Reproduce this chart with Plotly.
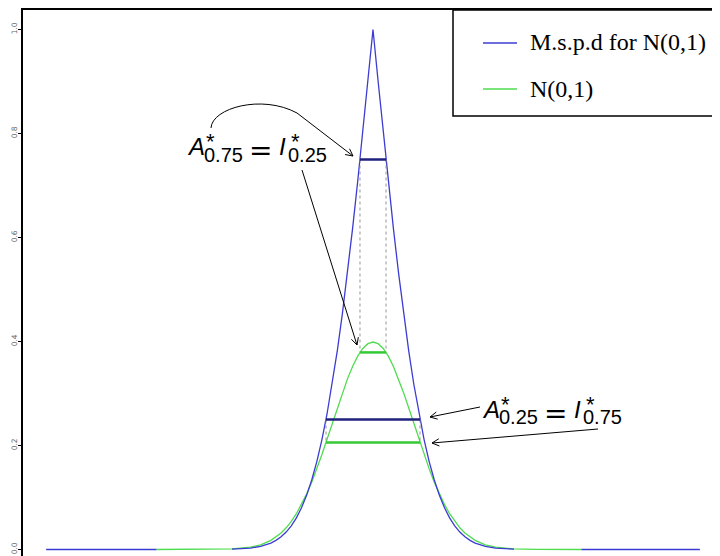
import math
import plotly.graph_objects as go

# ---------------- data ----------------
# M.s.p.d for N(0,1): left tail, core, right tail (None = gap in the drawn line)
blue_x = [-8.0, -5.3, None,
          -3.45, -3.0, -2.75, -2.5, -2.375, -2.25, -2.125, -2.0, -1.875, -1.75,
          -1.625, -1.5, -1.375, -1.25, -1.125, -1.0, -0.875, -0.75, -0.625, -0.5,
          -0.375, -0.25, -0.125, 0.0, 0.125, 0.25, 0.375, 0.5, 0.625, 0.75, 0.875,
          1.0, 1.125, 1.25, 1.375, 1.5, 1.625, 1.75, 1.875, 2.0, 2.125, 2.25,
          2.375, 2.5, 2.75, 3.0, 3.45,
          None, 5.1, 8.0]
blue_y = [0.0, 0.0, None,
          0.00056, 0.0027, 0.00596, 0.01242, 0.01754, 0.02445, 0.03358, 0.0455,
          0.06079, 0.08012, 0.10416, 0.13361, 0.16913, 0.2113, 0.26058, 0.31731,
          0.38157, 0.45326, 0.53197, 0.61708, 0.70766, 0.80258, 0.90052, 1.0,
          0.90052, 0.80258, 0.70766, 0.61708, 0.53197, 0.45326, 0.38157, 0.31731,
          0.26058, 0.2113, 0.16913, 0.13361, 0.10416, 0.08012, 0.06079, 0.0455,
          0.03358, 0.02445, 0.01754, 0.01242, 0.00596, 0.0027, 0.00056,
          None, 0.0, 0.0]

# N(0,1) density
green_x = [-5.3, -4.0, -3.45, -3.0, -2.75, -2.5, -2.375, -2.25, -2.125, -2.0,
           -1.875, -1.75, -1.625, -1.5, -1.375, -1.25, -1.125, -1.0, -0.875,
           -0.75, -0.625, -0.5, -0.375, -0.25, -0.125, 0.0, 0.125, 0.25, 0.375,
           0.5, 0.625, 0.75, 0.875, 1.0, 1.125, 1.25, 1.375, 1.5, 1.625, 1.75,
           1.875, 2.0, 2.125, 2.25, 2.375, 2.5, 2.75, 3.0, 3.45, 4.0, 5.1]
green_y = [0.0, 0.00013, 0.00104, 0.00443, 0.00909, 0.01753, 0.02378, 0.03174,
           0.04172, 0.05399, 0.06879, 0.08628, 0.10654, 0.12952, 0.15502,
           0.18265, 0.21188, 0.24197, 0.27205, 0.30114, 0.32816, 0.35207,
           0.37185, 0.38667, 0.39584, 0.39894, 0.39584, 0.38667, 0.37185,
           0.35207, 0.32816, 0.30114, 0.27205, 0.24197, 0.21188, 0.18265,
           0.15502, 0.12952, 0.10654, 0.08628, 0.06879, 0.05399, 0.04172,
           0.03174, 0.02378, 0.01753, 0.00909, 0.00443, 0.00104, 0.00013, 0.0]

prob_levels = [0.75, 0.25]          # heights of the dark-blue segments
quantile_x = [0.3186, 1.1503]       # half-widths of the segments
normal_heights = [0.3790, 0.2059]   # heights of the green segments

y_ticks = [0.0, 0.2, 0.4, 0.6, 0.8, 1.0]
y_tick_labels = ["0.0", "0.2", "0.4", "0.6", "0.8", "1.0"]

legend_labels = ["M.s.p.d for N(0,1)", "N(0,1)"]

# ---------------- styling / layout helpers ----------------
BLUE = "#3c3cd2"
GREEN = "#4fdc4f"
NAVY = "#20207e"
GREEN_SEG = "#35c935"

# the page has an 8px body margin: figure is 712x548 placed at (8, 8)
PAGE_OFF = 8
FIG_W, FIG_H = 720 - PAGE_OFF, 556 - PAGE_OFF
PLOT_LEFT_PX, PLOT_TOP_PX = 23, 10      # page pixels of plot-area edges

X0PX, XS = 373.0, 40.86      # page pixel of x=0, pixels per unit
Y0PX, YS = 549.5, 520.0      # page pixel of y=0, pixels per unit


def dx(px):
    return (px - X0PX) / XS


def dy(py):
    return (Y0PX - py) / YS


fig = go.Figure()

fig.add_trace(go.Scatter(x=green_x, y=green_y, mode="lines",
                         line=dict(color=GREEN, width=1.3), showlegend=False,
                         name=legend_labels[1], hoverinfo="skip"))
fig.add_trace(go.Scatter(x=blue_x, y=blue_y, mode="lines",
                         line=dict(color=BLUE, width=1.3), showlegend=False,
                         name=legend_labels[0], hoverinfo="skip",
                         connectgaps=False))

# dotted verticals
for q, p, h in zip(quantile_x, prob_levels, normal_heights):
    for s in (-1, 1):
        fig.add_trace(go.Scatter(x=[s * q, s * q], y=[p, h], mode="lines",
                                 line=dict(color="#888888", width=0.9, dash="dot"),
                                 showlegend=False, hoverinfo="skip"))

# horizontal segments
for q, p, h in zip(quantile_x, prob_levels, normal_heights):
    fig.add_trace(go.Scatter(x=[-q, q], y=[p, p], mode="lines",
                             line=dict(color=NAVY, width=2.5),
                             showlegend=False, hoverinfo="skip"))
    fig.add_trace(go.Scatter(x=[-q, q], y=[h, h], mode="lines",
                             line=dict(color=GREEN_SEG, width=2.5),
                             showlegend=False, hoverinfo="skip"))


def P(px, py):
    return f"{dx(px):.5f},{dy(py):.5f}"


def head(x0, y0, x1, y1, L=8.0, ang=math.radians(27)):
    ux, uy = x0 - x1, y0 - y1
    n = math.hypot(ux, uy)
    ux, uy = ux / n, uy / n
    pts = []
    for a in (ang, -ang):
        c, s = math.cos(a), math.sin(a)
        pts.append((x1 + L * (ux * c - uy * s), y1 + L * (ux * s + uy * c)))
    return f" M {P(*pts[0])} L {P(x1, y1)} L {P(*pts[1])}"


shapes = []
arrow_line = dict(color="black", width=1)

# curved arrow to the top blue segment
path = (f"M {P(211, 128)} C {P(212, 108)} {P(262, 94)} {P(297, 113)}"
        f" L {P(353, 156)}" + head(297, 113, 353, 156))
shapes.append(dict(type="path", path=path, xref="x", yref="y", line=arrow_line))

for (x0, y0, x1, y1) in [(302, 170, 357, 345), (480, 407, 430, 417),
                         (598, 429, 432, 443)]:
    path = f"M {P(x0, y0)} L {P(x1, y1)}" + head(x0, y0, x1, y1)
    shapes.append(dict(type="path", path=path, xref="x", yref="y", line=arrow_line))

# legend box and sample lines (drawn by hand, the box runs off the right edge)
shapes.append(dict(type="rect", xref="x", yref="y", x0=dx(453), x1=dx(760),
                   y0=dy(116), y1=dy(10), line=dict(color="black", width=1.5),
                   fillcolor="white", layer="above"))
shapes.append(dict(type="line", xref="x", yref="y", x0=dx(483), x1=dx(517),
                   y0=dy(43), y1=dy(43), line=dict(color=BLUE, width=1.3)))
shapes.append(dict(type="line", xref="x", yref="y", x0=dx(483), x1=dx(517),
                   y0=dy(89), y1=dy(89), line=dict(color=GREEN, width=1.3)))

annotations = []
SANS = "Liberation Sans, Arial, sans-serif"
SERIF = "Liberation Serif, Times New Roman, serif"


def txt(t, px, py, size, family=SANS, anchor="left"):
    annotations.append(dict(text=t, x=dx(px), y=dy(py), xref="x", yref="y",
                            xanchor=anchor, yanchor="middle", showarrow=False,
                            font=dict(family=family, size=size, color="black"),
                            borderpad=0))


def expr(ax_, cy, sub1, sub2):
    # ax_: left pixel of the A ; cy: centre of capitals
    txt("<i>A</i>", ax_ - 1, cy, 24)
    txt("*", ax_ + 18, cy - 5, 22)
    txt(sub1, ax_ + 16, cy + 8, 20)
    txt("=", ax_ + 61, cy + 4, 28, family="DejaVu Sans, sans-serif")
    txt("<i>I</i>", ax_ + 91, cy, 24)
    txt("*", ax_ + 103, cy - 5, 22)
    txt(sub2, ax_ + 100, cy + 8, 20)


expr(187, 146.5, "0.75", "0.25")
expr(482, 409, "0.25", "0.75")

txt(legend_labels[0], 529, 42, 24, family=SERIF)
txt(legend_labels[1], 529, 89, 24, family=SERIF)

fig.update_layout(
    template="none",
    width=FIG_W, height=FIG_H,
    margin=dict(l=PLOT_LEFT_PX - PAGE_OFF, r=0, t=PLOT_TOP_PX - PAGE_OFF, b=0,
                pad=0, autoexpand=False),
    paper_bgcolor="white", plot_bgcolor="white",
    showlegend=False,
    shapes=shapes, annotations=annotations,
    xaxis=dict(range=[dx(PLOT_LEFT_PX), dx(720)], showgrid=False, zeroline=False,
               showticklabels=False, ticks="", side="top", showline=True,
               linecolor="black", linewidth=2, automargin=False),
    yaxis=dict(range=[dy(556), dy(PLOT_TOP_PX)], showgrid=False, zeroline=False,
               tickvals=y_ticks, ticktext=y_tick_labels, ticks="outside",
               ticklen=3, tickwidth=1, tickcolor="black", tickangle=-90,
               ticklabelstandoff=-2,
               tickfont=dict(family="DejaVu Sans, sans-serif", size=7.5, color="#666666"),
               showline=True, linecolor="black", linewidth=2, automargin=False),
)

fig.write_html("out.html")
